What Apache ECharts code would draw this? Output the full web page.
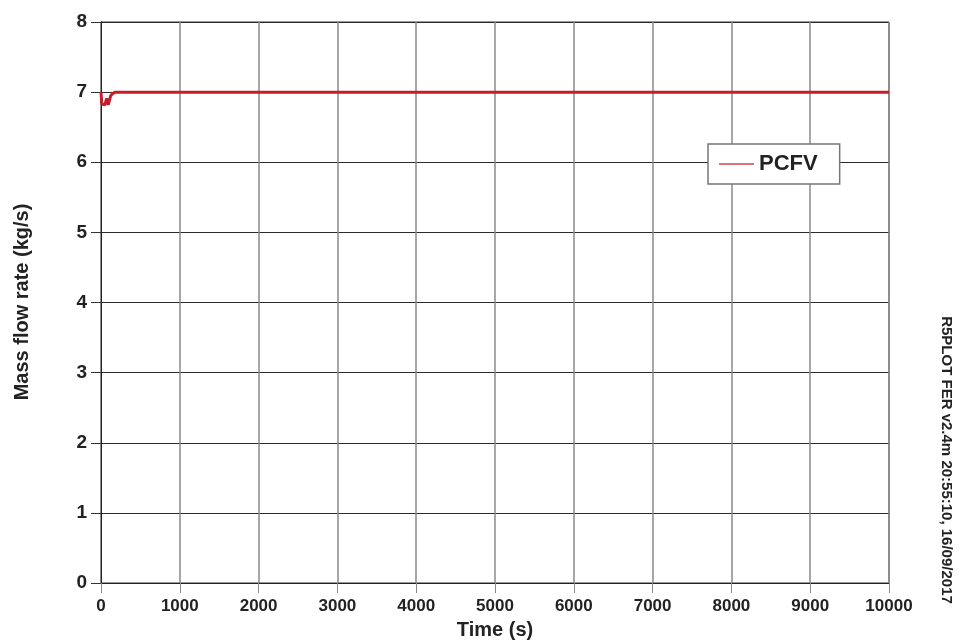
<!DOCTYPE html>
<html>
<head>
<meta charset="utf-8">
<script src="https://cdn.jsdelivr.net/npm/echarts@6/dist/echarts.min.js"></script>
<style>
html,body{margin:0;padding:0;background:#fff;}
#c{width:972px;height:643px;}
</style>
</head>
<body>
<div id="c"></div>
<script>
// Data
const timeValues = [0, 10, 30, 50, 72, 93, 110, 123, 150, 180, 300, 1000, 2000, 4000, 6000, 8000, 10000];
const flowValues = [7.0, 6.83, 6.81, 6.82, 6.91, 6.82, 6.83, 6.95, 6.98, 7.0, 7.0, 7.0, 7.0, 7.0, 7.0, 7.0, 7.0];
const seriesName = 'PCFV';
const xTitle = 'Time (s)';
const yTitle = 'Mass flow rate (kg/s)';
const stamp = 'R5PLOT FER v2.4m 20:55:10, 16/09/2017';

const points = timeValues.map((t, i) => [t, flowValues[i]]);
const FONT = '"Liberation Sans", Arial, sans-serif';

const chart = echarts.init(document.getElementById('c'), null, {renderer: 'canvas'});
chart.setOption({
  animation: false,
  backgroundColor: '#fff',
  grid: {left: 101, right: 83, top: 22, bottom: 60, show: true, borderColor: '#333', borderWidth: 1, backgroundColor: 'transparent'},
  xAxis: {
    type: 'value', min: 0, max: 10000, interval: 1000,
    axisLine: {show: true, lineStyle: {color: '#222', width: 1}},
    axisTick: {show: true, inside: false, length: 10, lineStyle: {color: '#888'}},
    axisLabel: {margin: 15, color: '#222', fontFamily: FONT, fontWeight: 'bold', fontSize: 17, formatter: v => String(v)},
    splitLine: {show: true, lineStyle: {color: '#8a8a8a', width: 1.5}}
  },
  yAxis: {
    type: 'value', min: 0, max: 8, interval: 1,
    axisLine: {show: true, lineStyle: {color: '#222', width: 1}},
    axisTick: {show: true, inside: false, length: 10, lineStyle: {color: '#333'}},
    axisLabel: {margin: 14, color: '#222', fontFamily: FONT, fontWeight: 'bold', fontSize: 19},
    splitLine: {show: true, lineStyle: {color: '#2a2a2a', width: 1}}
  },
  legend: {
    show: true,
    left: 708, top: 144,
    orient: 'horizontal',
    padding: [9, 22, 9, 11],
    itemWidth: 35, itemHeight: 14, itemGap: 5,
    backgroundColor: '#fff',
    borderColor: '#777', borderWidth: 1.5, borderRadius: 0,
    textStyle: {fontFamily: FONT, fontWeight: 'bold', fontSize: 22, color: '#222'},
    icon: 'path://M0,0 L35,0 L35,2.2 L0,2.2 Z',
    itemStyle: {color: '#dc7676'},
    data: [seriesName]
  },
  series: [{
    name: seriesName,
    type: 'line',
    data: points,
    symbol: 'none',
    smooth: false,
    lineStyle: {color: '#c41e2a', width: 3},
    itemStyle: {color: '#c41e2a'},
    z: 5
  }],
  graphic: [
    {type: 'text', x: 495, y: 630, style: {text: xTitle, font: 'bold 20px ' + FONT, fill: '#222', align: 'center', verticalAlign: 'middle'}},
    {type: 'text', x: 22, y: 302, rotation: Math.PI / 2, style: {text: yTitle, font: 'bold 20px ' + FONT, fill: '#222', align: 'center', verticalAlign: 'middle'}},
    {type: 'text', x: 946, y: 460, rotation: -Math.PI / 2, style: {text: stamp, font: 'bold 15px ' + FONT, fill: '#222', align: 'center', verticalAlign: 'middle'}}
  ]
});
</script>
</body>
</html>
